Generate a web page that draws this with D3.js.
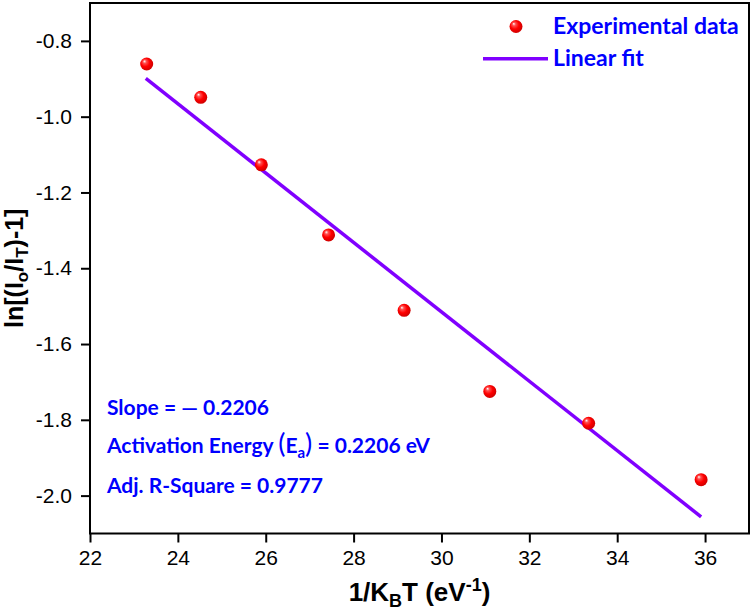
<!DOCTYPE html>
<html>
<head>
<meta charset="utf-8">
<script src="https://cdn.jsdelivr.net/npm/d3@7"></script>
<style>
  body { margin: 0; background: #fff; }
  svg { display: block; }
</style>
</head>
<body>
<div id="chart"></div>
<script>
// measured points: 1/kT vs ln[(Io/IT)-1]
var invKT = [23.29, 24.52, 25.90, 27.43, 29.15, 31.10, 33.35, 35.91];
var lnRatio = [-0.861, -0.949, -1.127, -1.312, -1.511, -1.725, -1.809, -1.958];

// linear fit drawn between first and last x
var fitX = [23.27, 35.91];
var fitY = [-0.899, -2.056];

var xTicks = [22, 24, 26, 28, 30, 32, 34, 36];
var yTicks = [-2.0, -1.8, -1.6, -1.4, -1.2, -1.0, -0.8];

var notes = ["Slope = \u2014 0.2206", "Adj. R-Square = 0.9777"];

var W = 753, H = 610;
var pL = 90, pR = 749, pT = 3, pB = 533.5;

var svg = d3.select("#chart").append("svg")
  .attr("width", W).attr("height", H);

var defs = svg.append("defs");
var grad = defs.append("radialGradient")
  .attr("id", "ball")
  .attr("cx", "45%").attr("cy", "45%").attr("r", "60%")
  .attr("fx", "32%").attr("fy", "28%");
grad.append("stop").attr("offset", "0%").attr("stop-color", "#ffffff");
grad.append("stop").attr("offset", "22%").attr("stop-color", "#ff5050");
grad.append("stop").attr("offset", "55%").attr("stop-color", "#ff0000");
grad.append("stop").attr("offset", "100%").attr("stop-color", "#c80000");

var x = d3.scaleLinear().domain([22, 37]).range([pL, pR]);
var y = d3.scaleLinear().domain([-2.1, -0.7]).range([pB, pT]);

var tickFont = "'Liberation Sans', Arial, sans-serif";
var noteFont = "Lato, 'Open Sans', sans-serif";
var blue = "#0000ff";

// axes (plain hyphen for negatives, like the original)
var xAxis = svg.append("g")
  .attr("transform", "translate(0," + pB + ")")
  .call(d3.axisBottom(x).tickValues(xTicks).tickSize(9).tickPadding(8).tickSizeOuter(0)
    .tickFormat(function(d) { return String(d); }));
var yAxis = svg.append("g")
  .attr("transform", "translate(" + pL + ",0)")
  .call(d3.axisLeft(y).tickValues(yTicks).tickSize(9).tickPadding(9).tickSizeOuter(0)
    .tickFormat(function(d) { return d.toFixed(1); }));

[xAxis, yAxis].forEach(function(g) {
  g.select(".domain").remove();
  g.selectAll(".tick line").attr("stroke", "#000").attr("stroke-width", 2);
  g.selectAll(".tick text")
    .attr("fill", "#000")
    .style("font-family", tickFont)
    .style("font-size", "21px");
});

// frame
svg.append("rect")
  .attr("x", pL).attr("y", pT)
  .attr("width", pR - pL).attr("height", pB - pT)
  .attr("fill", "none").attr("stroke", "#000").attr("stroke-width", 2);

// fit line
var line = d3.line()
  .x(function(d) { return x(d[0]); })
  .y(function(d) { return y(d[1]); });
svg.append("path")
  .datum(d3.zip(fitX, fitY))
  .attr("d", line)
  .attr("fill", "none")
  .attr("stroke", "#8000ff")
  .attr("stroke-width", 3.5);

// points
svg.selectAll("circle.pt")
  .data(d3.zip(invKT, lnRatio))
  .enter().append("circle")
  .attr("class", "pt")
  .attr("cx", function(d) { return x(d[0]); })
  .attr("cy", function(d) { return y(d[1]); })
  .attr("r", 6.5)
  .attr("fill", "url(#ball)");

// legend
svg.append("circle")
  .attr("cx", 516).attr("cy", 26.5).attr("r", 6.5)
  .attr("fill", "url(#ball)");
svg.append("line")
  .attr("x1", 483).attr("x2", 548)
  .attr("y1", 58.7).attr("y2", 58.7)
  .attr("stroke", "#8000ff").attr("stroke-width", 3.5);
svg.append("text")
  .attr("x", 553).attr("y", 34)
  .attr("fill", blue)
  .style("font-family", noteFont).style("font-weight", "bold").style("font-size", "23px")
  .text("Experimental data");
svg.append("text")
  .attr("x", 553).attr("y", 66)
  .attr("fill", blue)
  .style("font-family", noteFont).style("font-weight", "bold").style("font-size", "23px")
  .text("Linear fit");

// annotations
var noteStyle = function(t) {
  return t.attr("fill", blue)
    .style("font-family", noteFont).style("font-weight", "bold").style("font-size", "21px");
};
noteStyle(svg.append("text").attr("x", 107).attr("y", 415)).text(notes[0]);
var act = noteStyle(svg.append("text").attr("x", 107).attr("y", 453));
act.append("tspan").text("Activation Energy ");
act.append("tspan").style("font-size", "27px").style("font-weight", "normal").text("(");
act.append("tspan").text("E");
act.append("tspan").attr("dy", 5).style("font-size", "15px").text("a");
act.append("tspan").attr("dy", -5).style("font-size", "27px").style("font-weight", "normal").text(")");
act.append("tspan").text(" = 0.2206 eV");
noteStyle(svg.append("text").attr("x", 107).attr("y", 493)).text(notes[1]);

// axis titles
var titleFont = "'Liberation Sans', Arial, sans-serif";
var xt = svg.append("text")
  .attr("x", (pL + pR) / 2).attr("y", 601)
  .attr("text-anchor", "middle")
  .style("font-family", titleFont).style("font-weight", "bold").style("font-size", "26px");
xt.append("tspan").text("1/K");
xt.append("tspan").attr("dy", 6).style("font-size", "18px").text("B");
xt.append("tspan").attr("dy", -6).text("T (eV");
xt.append("tspan").attr("dy", -10).style("font-size", "18px").text("-1");
xt.append("tspan").attr("dy", 10).text(")");

var yt = svg.append("text")
  .attr("transform", "translate(23," + ((pT + pB) / 2) + ") rotate(-90)")
  .attr("text-anchor", "middle")
  .style("font-family", titleFont).style("font-weight", "bold").style("font-size", "25px");
yt.append("tspan").text("ln[(I");
yt.append("tspan").attr("dy", 5).style("font-size", "17px").text("o");
yt.append("tspan").attr("dy", -5).text("/I");
yt.append("tspan").attr("dy", 5).style("font-size", "17px").text("T");
yt.append("tspan").attr("dy", -5).text(")-1]");
</script>
</body>
</html>
